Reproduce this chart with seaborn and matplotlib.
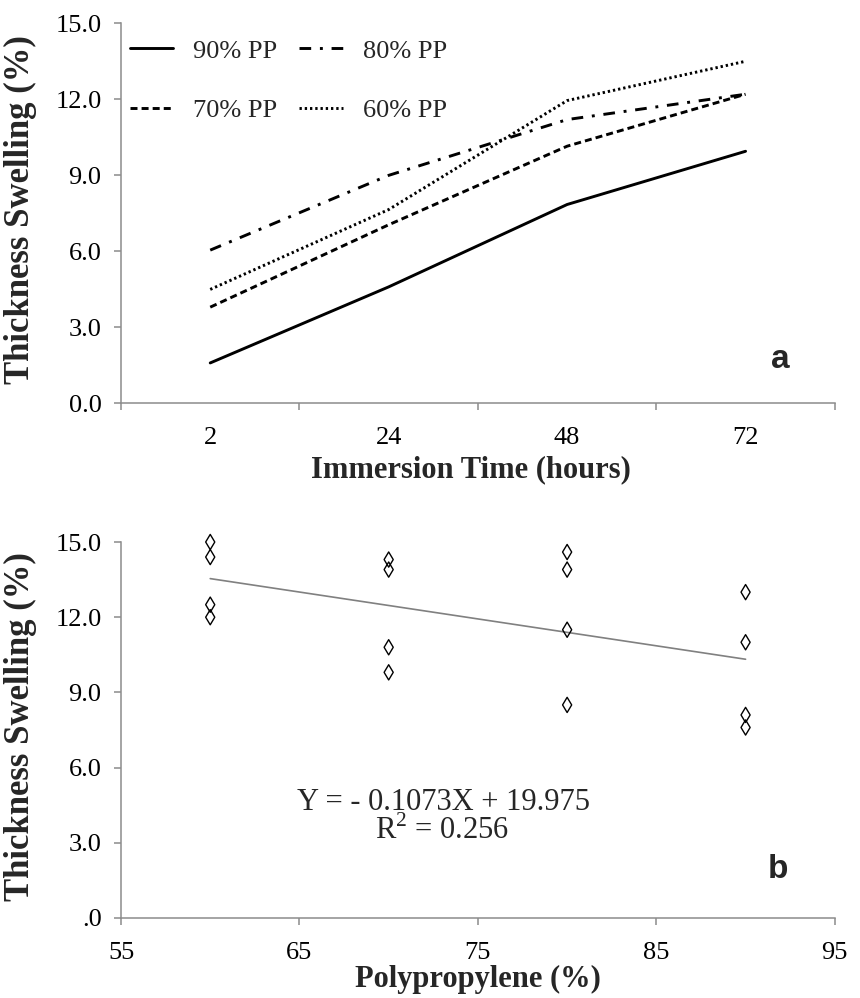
import numpy as np
import pandas as pd
import matplotlib
matplotlib.use('Agg')
import matplotlib.pyplot as plt
import seaborn as sns

sns.set_style('white')
plt.rcParams.update({'font.family': ['Liberation Serif', 'DejaVu Serif'],
                     'mathtext.fontset': 'custom', 'mathtext.rm': 'Liberation Serif',
                     'axes.spines.top': False, 'axes.spines.right': False,
                     'axes.edgecolor': '#8c8c8c', 'axes.linewidth': 1.1,
                     'xtick.color': '#8c8c8c', 'ytick.color': '#8c8c8c',
                     'xtick.labelcolor': 'black', 'ytick.labelcolor': 'black',
                     'xtick.bottom': True, 'ytick.left': True,
                     'xtick.direction': 'out', 'ytick.direction': 'out',
                     'xtick.major.size': 5, 'ytick.major.size': 5,
                     'xtick.major.width': 1.1, 'ytick.major.width': 1.1})

# panel a: thickness swelling vs immersion time
hours = ['2', '24', '48', '72']
pp90 = [1.6, 4.6, 7.85, 9.95]
pp80 = [6.05, 9.0, 11.2, 12.2]
pp70 = [3.8, 7.05, 10.15, 12.2]
pp60 = [4.5, 7.65, 11.95, 13.5]
series_names = ['90% PP', '80% PP', '70% PP', '60% PP']

# panel b: thickness swelling vs PP content
pp_content = [60, 60, 60, 60, 70, 70, 70, 70, 80, 80, 80, 80, 90, 90, 90, 90]
swelling = [15.0, 14.4, 12.5, 12.0, 14.3, 13.9, 10.8, 9.8,
            14.6, 13.9, 11.5, 8.5, 13.0, 11.0, 8.1, 7.6]

yticks = [0, 3, 6, 9, 12, 15]

rows = []
for name, vals in zip(series_names, [pp90, pp80, pp70, pp60]):
    for i, v in enumerate(vals):
        rows.append({'series': name, 'time_idx': i, 'ts': v})
df_a = pd.DataFrame(rows)
df_b = pd.DataFrame({'pp': pp_content, 'ts': swelling})

fig = plt.figure(figsize=(8.6, 9.98), dpi=100)
ax1 = fig.add_axes([0.1407, 0.5957, 0.8300, 0.3810])
ax2 = fig.add_axes([0.1407, 0.0802, 0.8300, 0.3767])

dash_map = {'90% PP': '', '80% PP': (4, 3, 1, 3), '70% PP': (2.4, 1.4), '60% PP': (0.8, 1.0)}
sns.lineplot(data=df_a, x='time_idx', y='ts', style='series', style_order=series_names,
             dashes=dash_map, color='black', linewidth=2.1, errorbar=None, legend=False, ax=ax1)

ax1.set_xlim(-0.5, len(hours) - 0.5)
ax1.set_ylim(0, 15)
ax1.set_xticks(np.arange(len(hours) + 1) - 0.5)
ax1.set_xticklabels([])
ax1.set_xticks(np.arange(len(hours)), minor=True)
ax1.set_xticklabels(hours, minor=True)
ax1.tick_params(axis='x', which='minor', length=0, pad=17, labelsize=19)
ax1.tick_params(axis='y', labelsize=19, pad=9)
ax1.set_yticks(yticks)
ax1.set_yticklabels([f'{t:.1f}' for t in yticks])
ax1.set_xlabel('Immersion Time (hours)', fontsize=22, fontweight='bold')
ax1.set_ylabel('Thickness Swelling (%)', fontsize=25, fontweight='bold')
ax1.xaxis.set_label_coords(0.49, -0.135)
ax1.yaxis.set_label_coords(-0.117, 0.51)

lines = ax1.get_lines()
order = [0, 2, 1, 3]
ax1.legend([lines[i] for i in order], [series_names[i] for i in order], ncol=2,
           loc='upper left', bbox_to_anchor=(0.012, 0.958), frameon=False,
           fontsize=19, handlelength=1.65, handletextpad=0.75, columnspacing=0.85,
           labelspacing=1.35, borderaxespad=0, borderpad=0)
ax1.text(0.923, 0.116, 'a', transform=ax1.transAxes, ha='center', va='center',
         fontsize=24, fontweight='bold', family='Liberation Sans')

# panel b
sns.regplot(data=df_b, x='pp', y='ts', scatter=False, ci=None, color='#808080',
            line_kws={'linewidth': 1.2}, ax=ax2)
sns.scatterplot(data=df_b, x='pp', y='ts', marker='d', s=60, facecolor='none',
                edgecolor='black', linewidth=1.0, clip_on=False, zorder=3, ax=ax2)
ax2.set_xlim(55, 95)
ax2.set_ylim(0, 15)
ax2.set_xticks([55, 65, 75, 85, 95])
ax2.set_yticks(yticks)
ax2.set_yticklabels(['.0'] + [f'{t:.1f}' for t in yticks[1:]])
ax2.tick_params(axis='x', labelsize=19, pad=12)
ax2.tick_params(axis='y', labelsize=19, pad=9)
ax2.set_xlabel('Polypropylene (%)', fontsize=22, fontweight='bold')
ax2.set_ylabel('Thickness Swelling (%)', fontsize=25, fontweight='bold')
ax2.xaxis.set_label_coords(0.5, -0.125)
ax2.yaxis.set_label_coords(-0.117, 0.508)
ax2.text(73.1, 4.6, 'Y = - 0.1073X + 19.975', ha='center', va='center', fontsize=22)
ax2.text(73.0, 3.5, 'R$^{2}$ = 0.256', ha='center', va='center', fontsize=22)
ax2.text(0.92, 0.13, 'b', transform=ax2.transAxes, ha='center', va='center',
         fontsize=24, fontweight='bold', family='Liberation Sans')

fig.savefig('out.png', dpi=100)
